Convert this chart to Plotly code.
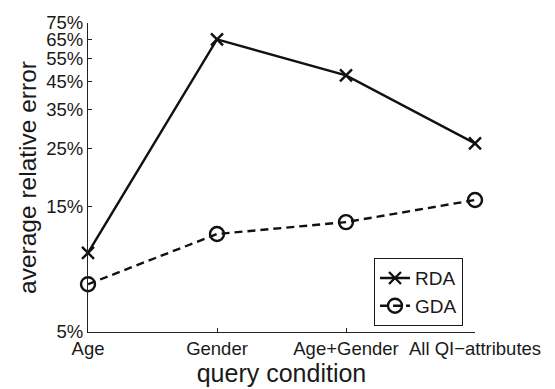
import plotly.graph_objects as go

categories = ["Age", "Gender", "Age+Gender", "All QI\u2212attributes"]
rda = [10.0, 65.0, 47.4, 26.1]
gda = [7.6, 11.8, 13.1, 15.9]
ytick_vals = [5, 15, 25, 35, 45, 55, 65, 75]
ytick_text = ["5%", "15%", "25%", "35%", "45%", "55%", "65%", "75%"]

xpos = list(range(len(categories)))
font = "Liberation Sans, Arial, Helvetica, sans-serif"

fig = go.Figure()
fig.add_trace(go.Scatter(
    x=xpos, y=rda, name="RDA", mode="lines+markers",
    line=dict(color="#111", width=2.4),
    marker=dict(symbol="x-thin-open", size=12, line=dict(width=2.4, color="#111"), color="#111"),
    cliponaxis=False,
))
fig.add_trace(go.Scatter(
    x=xpos, y=gda, name="GDA", mode="lines+markers",
    line=dict(color="#111", width=2.4, dash="8px,5px"),
    marker=dict(symbol="circle-open", size=14, line=dict(width=2.4, color="#111"), color="#111"),
    cliponaxis=False,
))

fig.update_layout(
    width=555, height=389,
    margin=dict(l=88, r=80, t=15, b=56),
    paper_bgcolor="white", plot_bgcolor="white",
    font=dict(family=font, color="#1a1a1a", size=18),
    showlegend=True,
    legend=dict(
        x=0.739, y=0.019, xanchor="left", yanchor="bottom",
        bordercolor="#1a1a1a", borderwidth=1, bgcolor="white",
        font=dict(size=19, family=font), tracegroupgap=0,
        itemwidth=30,
    ),
)
fig.update_xaxes(
    tickmode="array", tickvals=xpos, ticktext=categories,
    range=[0, 3], showgrid=False, zeroline=False,
    showline=True, linecolor="#222", linewidth=1,
    ticks="inside", ticklen=4, tickcolor="#222",
    tickfont=dict(size=18.5), title=dict(text="query condition", font=dict(size=25), standoff=0),
)
fig.update_yaxes(
    type="log", range=[0.69897, 1.875061], tickmode="array",
    tickvals=ytick_vals, ticktext=ytick_text,
    showgrid=False, zeroline=False,
    showline=True, linecolor="#222", linewidth=1,
    ticks="inside", ticklen=4, tickcolor="#222",
    tickfont=dict(size=18.5), title=dict(text="average relative error", font=dict(size=24.5), standoff=2),
)

fig.write_html("out.html")
